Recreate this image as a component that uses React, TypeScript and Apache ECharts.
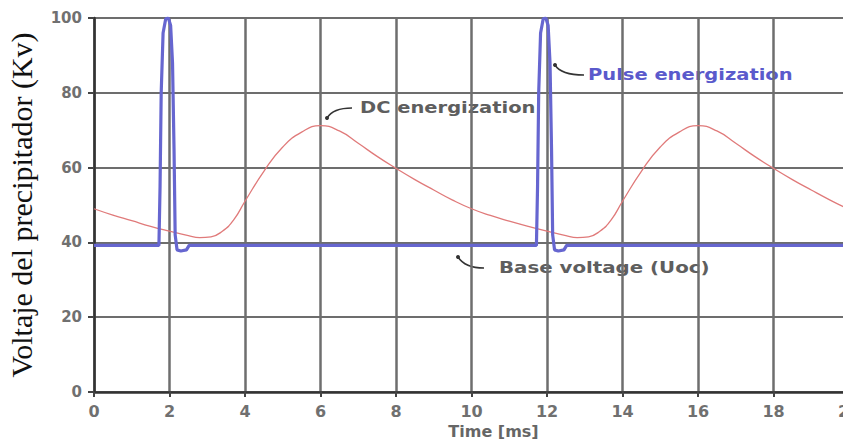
import React, { useEffect, useRef } from "react";
import * as echarts from "echarts";

// Pulse energization (time in ms, voltage in kV)
const pulseTime = [
  0, 1.72, 1.75, 1.78, 1.83, 1.9, 1.97, 2.03, 2.08, 2.12, 2.15, 2.2, 2.3, 2.45, 2.52,
  11.72, 11.75, 11.78, 11.83, 11.9, 11.97, 12.03, 12.08, 12.12, 12.15, 12.2, 12.3, 12.45, 12.52, 20,
];
const pulseVolt = [
  39.2, 39.2, 55, 80, 96, 99.8, 100, 98, 88, 65, 42, 38, 37.7, 38, 39.2,
  39.2, 55, 80, 96, 99.8, 100, 98, 88, 65, 42, 38, 37.7, 38, 39.2, 39.2,
];

// DC energization
const dcTime = [
  0, 0.5, 1, 1.5, 2, 2.5, 2.8, 3.1, 3.4, 3.7, 4, 4.5, 5, 5.5, 6, 6.5, 7, 7.5, 8, 8.5, 9, 9.5,
  10, 10.5, 11, 11.5, 12, 12.5, 12.8, 13.1, 13.4, 13.7, 14, 14.5, 15, 15.5, 16, 16.5, 17,
  17.5, 18, 18.5, 19, 19.5, 20,
];
const dcVolt = [
  49, 47.3, 45.8, 44.3, 43, 41.8, 41.3, 41.5, 43, 46, 51, 59, 65.5, 69.5, 71.2, 69.8, 66.5,
  63, 59.8, 56.8, 54, 51.3, 49, 47.2, 45.7, 44.3, 43, 41.8, 41.3, 41.5, 43, 46, 51, 59, 65.5,
  69.5, 71.2, 69.8, 66.5, 63, 59.8, 56.8, 54, 51.3, 48.8,
];

const xTicks = [0, 2, 4, 6, 8, 10, 12, 14, 16, 18, 20];
const yTicks = [0, 20, 40, 60, 80, 100];

const annotations = [
  { text: "DC energization", color: "#5e5e5e" },
  { text: "Pulse energization", color: "#5a5acc" },
  { text: "Base voltage (Uoc)", color: "#5e5e5e" },
];

const SANS = "DejaVu Sans";

export default function App() {
  const ref = useRef<HTMLDivElement>(null);

  useEffect(() => {
    if (!ref.current) return;
    const chart = echarts.init(ref.current, null, { renderer: "svg" });

    const pulseData = pulseTime.map((t, i) => [t, pulseVolt[i]]);
    const dcData = dcTime.map((t, i) => [t, dcVolt[i]]);

    const leaderStyle = { stroke: "#333", lineWidth: 1.5, fill: "none" };
    const textStyle = (txt: string, color: string) => ({
      text: txt,
      fill: color,
      fontFamily: SANS,
      fontWeight: "bold",
      fontSize: 15,
      verticalAlign: "middle",
      align: "left",
    });

    chart.setOption({
      animation: false,
      backgroundColor: "#fff",
      grid: {
        left: 94,
        top: 18,
        width: 755,
        height: 374,
        containLabel: false,
        outerBoundsMode: "none",
      },
      xAxis: {
        type: "value",
        min: 0,
        max: 20,
        interval: 2,
        name: "Time [ms]",
        nameLocation: "middle",
        nameGap: 31,
        nameTextStyle: {
          fontFamily: SANS,
          fontWeight: "bold",
          fontSize: 16,
          color: "#666",
          padding: [0, 0, 0, 44],
        },
        axisLine: { show: true, lineStyle: { color: "#333", width: 2.5 } },
        axisTick: { show: true, length: 5, lineStyle: { color: "#444", width: 2 } },
        axisLabel: {
          margin: 11,
          fontFamily: SANS,
          fontWeight: "bold",
          fontSize: 16,
          color: "#707070",
          formatter: (v: number) => (xTicks.includes(v) ? String(v) : ""),
        },
        splitLine: { show: true, lineStyle: { color: "#6e6e6e", width: 2.5 } },
      },
      yAxis: {
        type: "value",
        min: 0,
        max: 100,
        interval: 20,
        name: "Voltaje del precipitador (Kv)",
        nameLocation: "middle",
        nameGap: 58,
        nameTextStyle: {
          fontFamily: "Liberation Serif",
          fontSize: 30,
          color: "#111",
        },
        axisLine: { show: true, lineStyle: { color: "#333", width: 2.5 } },
        axisTick: { show: true, length: 6, lineStyle: { color: "#444", width: 2 } },
        axisLabel: {
          margin: 12,
          fontFamily: SANS,
          fontWeight: "bold",
          fontSize: 15,
          color: "#707070",
          formatter: (v: number) => (yTicks.includes(v) ? String(v) : ""),
        },
        splitLine: { show: true, lineStyle: { color: "#3c3c3c", width: 1.6 } },
      },
      series: [
        {
          name: "DC energization",
          type: "line",
          data: dcData,
          smooth: 0.5,
          showSymbol: false,
          lineStyle: { color: "#e07a7a", width: 1.3 },
          z: 3,
        },
        {
          name: "Pulse energization",
          type: "line",
          data: pulseData,
          showSymbol: false,
          lineStyle: { color: "#6666d0", width: 3.2 },
          z: 4,
        },
      ],
      graphic: [
        // DC energization label
        { type: "circle", shape: { cx: 327, cy: 118, r: 2 }, style: { fill: "#333" } },
        {
          type: "bezierCurve",
          shape: { x1: 327, y1: 118, cpx1: 333, cpy1: 108, x2: 352, y2: 108 },
          style: leaderStyle,
        },
        {
          type: "text",
          x: 360,
          y: 108,
          scaleX: 1.3,
          style: textStyle(annotations[0].text, annotations[0].color),
        },
        // Pulse energization label
        { type: "circle", shape: { cx: 555, cy: 65, r: 2 }, style: { fill: "#333" } },
        {
          type: "bezierCurve",
          shape: { x1: 555, y1: 65, cpx1: 561, cpy1: 75, x2: 584, y2: 75 },
          style: leaderStyle,
        },
        {
          type: "text",
          x: 588,
          y: 75,
          scaleX: 1.3,
          style: textStyle(annotations[1].text, annotations[1].color),
        },
        // Base voltage label
        { type: "circle", shape: { cx: 458, cy: 257, r: 2 }, style: { fill: "#333" } },
        {
          type: "bezierCurve",
          shape: { x1: 458, y1: 257, cpx1: 465, cpy1: 268, x2: 484, y2: 268 },
          style: leaderStyle,
        },
        {
          type: "text",
          x: 499,
          y: 268,
          scaleX: 1.32,
          style: textStyle(annotations[2].text, annotations[2].color),
        },
      ],
    });

    return () => chart.dispose();
  }, []);

  return (
    <div
      ref={ref}
      style={{ position: "absolute", left: 0, top: 0, width: 843, height: 442, overflow: "hidden" }}
    />
  );
}
